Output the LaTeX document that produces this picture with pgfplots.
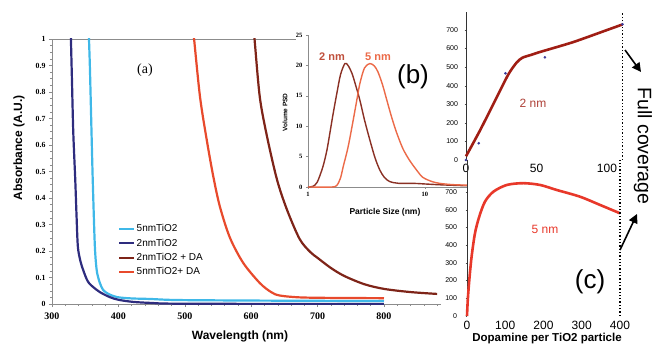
\documentclass[border=0pt]{standalone}
\usepackage{fontspec}
\setmainfont{Liberation Serif}
\setsansfont{Liberation Sans}
\usepackage{pgfplots}
\pgfplotsset{compat=1.18}
\usetikzlibrary{arrows.meta}

\definecolor{lblue}{HTML}{3FB8E8}
\definecolor{navy}{HTML}{2E2C7E}
\definecolor{dred}{HTML}{7E2418}
\definecolor{ored}{HTML}{E84A2C}
\definecolor{psdtwo}{HTML}{8A3024}
\definecolor{psdfive}{HTML}{EC6A48}
\definecolor{txttwo}{HTML}{C0503C}
\definecolor{ctop}{HTML}{A01E14}
\definecolor{cbot}{HTML}{E8382A}
\definecolor{dotc}{HTML}{3A3A9A}
\definecolor{axgray}{HTML}{8C8C8C}

\begin{document}
\begin{tikzpicture}
\path[use as bounding box] (0pt,0pt) rectangle (655pt,345pt);

% ---------------- panel (a)
\begin{axis}[
  at={(52pt,41pt)}, anchor=south west, scale only axis,
  width=398.4pt, height=265pt,
  xmin=300, xmax=900, ymin=0, ymax=1,
  xtick={300,400,500,600,700,800,900},
  xticklabels={300,400,500,600,700,800,{}},
  ytick={0,0.1,0.2,0.3,0.4,0.5,0.6,0.7,0.8,0.9,1},
  yticklabels={0,0.1,0.2,0.3,0.4,0.5,0.6,0.7,0.8,0.9,1},
  minor x tick num=4, minor y tick num=3,
  tick align=outside, major tick length=3pt, minor tick length=2pt,
  xtick pos=bottom, ytick pos=left,
  axis line style={axgray, line width=0.8pt},
  every tick/.style={axgray, line width=0.5pt},
  /pgf/number format/assume math mode=true,
  xticklabel style={font=\bfseries\fontsize{10}{12}\selectfont, yshift=-2pt},
  yticklabel style={font=\bfseries\fontsize{7.8}{9}\selectfont},
  xlabel={Wavelength (nm)}, ylabel={Absorbance (A.U.)},
  x label style={at={(axis description cs:0.472,-0.121)}, anchor=center, font=\sffamily\bfseries\fontsize{12}{14}\selectfont},
  y label style={at={(axis description cs:-0.083,0.589)}, anchor=center, font=\sffamily\bfseries\fontsize{12}{14}\selectfont},
  legend style={at={(axis description cs:0.166,0.306)}, anchor=north west, draw=none, fill=none,
     font=\sffamily\fontsize{10}{12}\selectfont, row sep=2.4pt, inner sep=0pt,
     nodes={inner sep=1.2pt, text height=7.5pt, text depth=2pt}},
  legend cell align=left,
  legend image code/.code={\draw[#1] (0pt,0pt) -- (15pt,0pt);},
]
\addplot[lblue, line width=2.2pt, smooth] coordinates {
 (355,1.05)(357,0.9)(359,0.7)(361,0.5)(363,0.33)(364.5,0.22)(366,0.16)(368,0.117)
 (372,0.08)(377,0.053)(385,0.038)(398,0.026)(420,0.021)(448,0.019)(488,0.015)
 (600,0.013)(700,0.012)(800,0.011)};
\addlegendentry{5nmTiO2}
\addplot[navy, line width=2.2pt, smooth] coordinates {
 (328,1.05)(330,0.85)(332,0.65)(335,0.47)(337,0.33)(339,0.215)(343,0.16)(347,0.128)
 (352,0.095)(356,0.078)(362,0.064)(372,0.045)(387,0.026)(400,0.016)(422,0.008)
 (450,0.004)(500,0.001)(800,0)};
\addlegendentry{2nmTiO2}
\addplot[dred, line width=2.2pt, smooth] coordinates {
 (603,1.05)(605,1.0)(613,0.78)(624,0.63)(639,0.468)(654,0.355)(673,0.245)(689,0.196)
 (700,0.174)(720,0.136)(740,0.106)(770,0.075)(800,0.057)(840,0.045)(880,0.038)};
\addlegendentry{2nmTiO2 + DA}
\addplot[ored, line width=2.2pt, smooth] coordinates {
 (512,1.05)(514,1.0)(523,0.78)(533,0.62)(543,0.48)(553,0.366)(568,0.25)(588,0.155)
 (613,0.079)(630,0.045)(643,0.032)(673,0.025)(720,0.023)(800,0.022)};
\addlegendentry{5nmTiO2+ DA}
\end{axis}

% white backgrounds for overlapping panels
\fill[white] (441pt,0pt) rectangle (466pt,320pt);
\fill[white] (296pt,140pt) rectangle (441pt,315pt);

% ---------------- panel (b) inset
\begin{axis}[
  at={(308pt,158pt)}, anchor=south west, scale only axis,
  width=159pt, height=152pt,
  xmode=log, xmin=1, xmax=23, ymin=0, ymax=25,
  axis x line*=bottom, axis y line*=left,
  xtick={1,10}, xticklabels={1,10}, xminorticks=false,
  ytick={0,5,10,15,20,25},
  tick align=outside, major tick length=2pt,
  axis line style={axgray, line width=0.6pt},
  every tick/.style={axgray, line width=0.4pt},
  /pgf/number format/assume math mode=true,
  xticklabel style={font=\bfseries\fontsize{6.5}{7}\selectfont},
  yticklabel style={font=\bfseries\fontsize{6.5}{7}\selectfont},
  xlabel={Particle Size (nm)}, ylabel={Volume PSD},
  x label style={at={(axis description cs:0.484,-0.164)}, anchor=center, font=\sffamily\bfseries\fontsize{8.5}{10}\selectfont},
  y label style={at={(axis description cs:-0.145,0.49)}, anchor=center, font=\sffamily\bfseries\fontsize{6.5}{7}\selectfont},
  clip=false,
]
\addplot[psdtwo, line width=1.4pt, smooth] coordinates {
 (1,0)(1.1,0.1)(1.2,0.8)(1.34,3.3)(1.45,6)(1.54,8.9)(1.65,12.3)(1.77,15.5)(1.9,18.5)
 (2.07,20.3)(2.2,20)(2.38,18.7)(2.58,16.5)(2.78,14.3)(3.05,11)(3.39,7.7)(3.75,4.8)
 (4.12,2.8)(4.5,1.6)(5.0,0.9)(6,0.6)(8,0.6)(10,0.5)(14,0.35)(23,0.2)};
\addplot[psdfive, line width=1.4pt, smooth] coordinates {
 (1,0)(1.6,0)(1.77,0.3)(1.9,1.5)(2.0,3.3)(2.2,6.5)(2.38,9.9)(2.58,13.6)(2.78,17)
 (3.05,19.6)(3.39,20.3)(3.7,19.9)(3.98,18.9)(4.35,16.8)(4.73,14.3)(5.2,11.5)(5.75,8.9)
 (6.5,6.3)(7.4,4.4)(8.5,2.8)(9.6,1.6)(11.5,0.9)(13.4,0.6)(17,0.4)(23,0.3)};
\end{axis}

% ---------------- panel (c) top
\begin{axis}[
  at={(466pt,185pt)}, anchor=south west, scale only axis,
  width=156.5pt, height=148pt,
  xmin=0, xmax=111, ymin=0, ymax=796,
  axis x line*=bottom, axis y line*=left,
  x axis line style={draw=none},
  y axis line style={black!80, line width=0.8pt},
  xtick={0,50,100}, ytick={0,100,200,300,400,500,600,700},
  xtick style={draw=none}, ytick style={black!70},
  tick align=outside, major tick length=1.5pt,
  /pgf/number format/assume math mode=true,
  xticklabel style={font=\sffamily\fontsize{12}{13}\selectfont, yshift=1pt},
  yticklabel style={font=\sffamily\fontsize{7}{8}\selectfont, xshift=-3pt},
  clip=false,
]
\addplot[ctop, line width=2.6pt, smooth, tension=0.4] coordinates {
 (0,20)(10,160)(20,310)(30,460)(36,525)(40,550)(46,565)(52.5,581)(76,634)(100,699)(111,729)};
\addplot[only marks, mark=*, mark size=1.1pt, dotc] coordinates {
 (0,0)(9,90)(28,466)(56,552)(111,730)};
\addplot[black, line width=1.3pt, dotted] coordinates {(111,0)(111,796)};
\end{axis}

% ---------------- panel (c) bottom
\begin{axis}[
  at={(467pt,29pt)}, anchor=south west, scale only axis,
  width=153pt, height=156pt,
  xmin=0, xmax=400, ymin=0, ymax=881,
  axis x line*=bottom, axis y line*=left,
  x axis line style={draw=none},
  y axis line style={black!80, line width=0.8pt},
  xtick={0,100,200,300,400}, ytick={0,100,200,300,400,500,600,700},
  xtick style={draw=none}, ytick style={black!70},
  tick align=outside, major tick length=1.5pt,
  /pgf/number format/assume math mode=true,
  xticklabel style={font=\sffamily\fontsize{12}{13}\selectfont, yshift=0pt},
  yticklabel style={font=\sffamily\fontsize{7}{8}\selectfont, xshift=-5pt},
  xlabel={Dopamine per TiO2 particle},
  x label style={at={(axis description cs:0.523,-0.147)}, anchor=center, font=\sffamily\bfseries\fontsize{11.5}{13}\selectfont},
  clip=false,
]
\addplot[cbot, line width=2.6pt, smooth] coordinates {
 (0,0)(2,90)(6,203)(12,335)(21,469)(32,561)(47,646)(69,702)(104,740)(147,750)
 (191,740)(234,712)(295,674)(348,627)(400,580)};
\addplot[black, line width=1.3pt, dotted] coordinates {(400,0)(400,881)};
\end{axis}

% ---------------- annotations
\node[font=\fontsize{14}{16}\selectfont] at (145pt,275pt) {(a)};
\node[font=\sffamily\fontsize{26}{28}\selectfont] at (413pt,268pt) {(b)};
\node[font=\sffamily\fontsize{26}{28}\selectfont] at (590pt,63pt) {(c)};
\node[font=\sffamily\bfseries\fontsize{11}{12}\selectfont, text=txttwo] at (332pt,288pt) {2 nm};
\node[font=\sffamily\bfseries\fontsize{11}{12}\selectfont, text=psdfive] at (378pt,288pt) {5 nm};
\node[font=\sffamily\fontsize{12}{13}\selectfont, text=ctop!85] at (533pt,242pt) {2 nm};
\node[font=\sffamily\fontsize{12}{13}\selectfont, text=cbot] at (545pt,116pt) {5 nm};
\node[rotate=-90, font=\sffamily\fontsize{19.5}{22}\selectfont] at (643pt,199pt) {Full coverage};
\draw[line width=1.6pt, -{Triangle[length=9pt,width=9pt]}] (625pt,295pt) -- (641pt,273pt);
\draw[line width=1.6pt, -{Triangle[length=9pt,width=9pt]}] (620pt,95pt) -- (637pt,131pt);
\end{tikzpicture}
\end{document}
